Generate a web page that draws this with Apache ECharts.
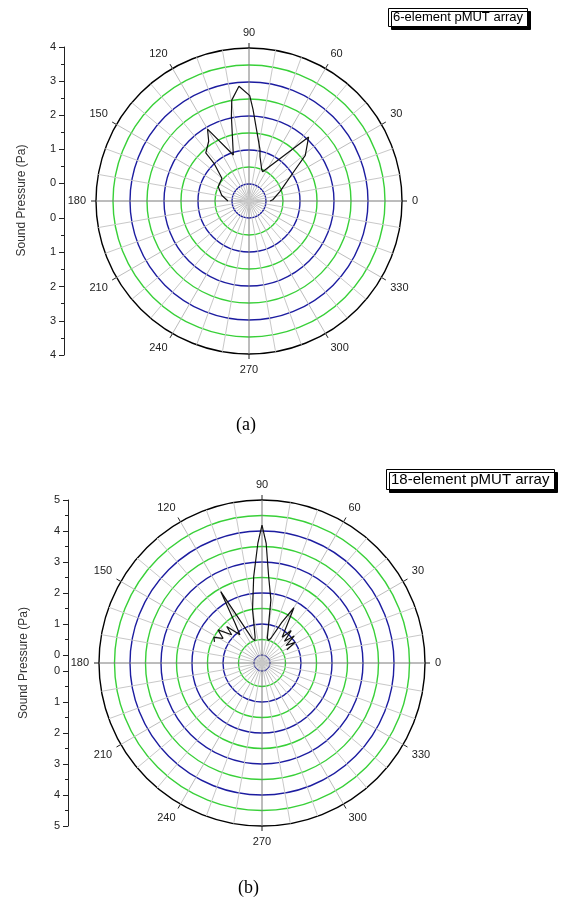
<!DOCTYPE html>
<html>
<head>
  <meta charset="UTF-8">
  <title>pMUT array directivity</title>
  <style>
    html, body { margin: 0; padding: 0; background: #fff; }
    #chart { width: 566px; height: 908px; }
  </style>
  <script src="https://cdn.jsdelivr.net/npm/echarts@6/dist/echarts.min.js"></script>
</head>
<body>
  <div id="chart"></div>
  <script>
    // (a) 6-element array: angle in degrees (0 = right, counter-clockwise), pressure in Pa
    var anglesA   = [0, 3, 17, 27, 34, 39, 47, 65, 68, 76, 78, 87.5, 89.6, 95, 99.7, 101.8, 108.8, 120, 124, 132, 133, 140, 155, 168, 180];
    var pressureA = [0.12, 0.2, 0.45, 0.75, 1.13, 1.63, 2.07, 0.45, 0.5, 0.84, 1.05, 2.2, 2.6, 2.89, 2.51, 2.03, 0.93, 1.94, 1.62, 1.4, 1.0, 0.54, 0.5, 0.32, 0.12];

    // (b) 18-element array
    var anglesB   = [28, 32, 36, 40, 44, 48, 52, 60, 64, 70, 74, 78, 82, 85.6, 88, 90, 92, 95.5, 100, 105, 108, 112, 120, 124, 128, 134, 137, 143, 147.6, 152, 156];
    var pressureB = [0.65, 1.0, 0.7, 1.1, 0.75, 1.15, 0.8, 1.8, 1.2, 0.6, 0.5, 0.57, 1.8, 2.54, 3.6, 4.19, 3.6, 2.54, 1.5, 0.6, 0.5, 0.6, 2.4, 1.3, 0.9, 1.38, 1.08, 1.52, 1.23, 1.5, 1.42];

    var maxA = 4, maxB = 5;
    var titleA = '6-element pMUT array';
    var titleB = '18-element pMUT array';
    var yName = 'Sound Pressure (Pa)';

    var FONT = 'Liberation Sans';
    var BLUE = '#1c1ca0', GREEN = '#38d038';

    // rings every 0.5 Pa: blue on whole numbers, green on halves, black outer edge
    function ringColors(max) {
      var c = [];
      for (var i = 0; i < max * 2; i++) c.push(i % 2 ? GREEN : BLUE);
      c.push('#000');
      return c;
    }

    function angleAxis(polarIndex, main) {
      return {
        polarIndex: polarIndex, type: 'value', min: 0, max: 360, interval: 30,
        startAngle: 0, clockwise: false,
        axisLine: { show: false },
        axisTick: { show: main, length: 5, lineStyle: { color: '#222' } },
        minorTick: { show: false, splitNumber: 3 },
        axisLabel: {
          show: main, margin: 10, color: '#222', fontSize: 11, fontFamily: FONT,
          formatter: function (v) { return v >= 360 ? '' : String(v); }
        },
        splitLine: { show: true, lineStyle: { color: ['#7a7a7a', '#bcbcbc', '#bcbcbc'], width: 1 } },
        minorSplitLine: { show: true, lineStyle: { color: '#c8c8c8', width: 1 } }
      };
    }

    function radiusAxis(polarIndex, max, main) {
      return {
        polarIndex: polarIndex, type: 'value', min: 0, max: max, interval: 0.5,
        show: main,
        axisLine: { show: false }, axisTick: { show: false }, axisLabel: { show: false },
        splitLine: { show: main, lineStyle: { color: ringColors(max), width: 1.4 } }
      };
    }

    function yAxis(gridIndex, max, inverse) {
      return {
        gridIndex: gridIndex, type: 'value', min: 0, max: max, interval: 1, inverse: inverse,
        axisLine: { show: true, lineStyle: { color: '#222', width: 1 } },
        axisTick: { show: true, length: 5, lineStyle: { color: '#222' } },
        minorTick: { show: true, splitNumber: 2, length: 3, lineStyle: { color: '#222' } },
        axisLabel: { fontSize: 11, color: '#222', margin: 8, fontFamily: FONT },
        splitLine: { show: false }
      };
    }

    function gapAxis(gridIndex, nameGap) {
      return {
        gridIndex: gridIndex, type: 'value', min: 0, max: 1,
        axisLine: { show: true, lineStyle: { color: '#222' } },
        axisTick: { show: false }, axisLabel: { show: false }, splitLine: { show: false },
        name: yName, nameLocation: 'middle', nameRotate: 90, nameGap: nameGap,
        nameTextStyle: { fontSize: 12, color: '#333', fontFamily: FONT }
      };
    }

    function boxTitle(text, left, top, size) {
      return {
        text: text, left: left, top: top, padding: [3, 5, 3, 5],
        backgroundColor: '#fff', borderColor: '#000', borderWidth: 1,
        shadowColor: '#000', shadowOffsetX: 3, shadowOffsetY: 3, shadowBlur: 0,
        textStyle: { fontSize: size, fontWeight: 'normal', color: '#000', fontFamily: FONT }
      };
    }

    function caption(text, left, top) {
      return {
        text: text, left: left, top: top, padding: 0,
        textStyle: { fontSize: 18, fontWeight: 'normal', color: '#000', fontFamily: 'Liberation Serif' }
      };
    }

    function pairs(r, a) {
      return r.map(function (v, i) { return [v, a[i]]; });
    }

    var chart = echarts.init(document.getElementById('chart'));
    chart.setOption({
      animation: false,
      backgroundColor: '#fff',
      title: [
        boxTitle(titleA, 388, 8, 13),
        boxTitle(titleB, 386, 469, 15),
        caption('(a)', 236, 416),
        caption('(b)', 238, 879)
      ],
      polar: [
        { center: [249, 201], radius: [17, 153] },
        { center: [249, 201], radius: 17 },
        { center: [262, 663], radius: [8, 163] },
        { center: [262, 663], radius: 8 }
      ],
      angleAxis: [angleAxis(0, true), angleAxis(1, false), angleAxis(2, true), angleAxis(3, false)],
      radiusAxis: [radiusAxis(0, maxA, true), radiusAxis(1, maxA, false), radiusAxis(2, maxB, true), radiusAxis(3, maxB, false)],
      grid: [
        { left: 64, width: 10, top: 47, height: 136 },
        { left: 64, width: 10, top: 183, height: 35 },
        { left: 64, width: 10, top: 218, height: 137 },
        { left: 68, width: 10, top: 500, height: 155 },
        { left: 68, width: 10, top: 655, height: 16 },
        { left: 68, width: 10, top: 671, height: 155 }
      ],
      xAxis: [0, 1, 2, 3, 4, 5].map(function (g) { return { gridIndex: g, type: 'value', show: false }; }),
      yAxis: [
        yAxis(0, maxA, false), gapAxis(1, 36), yAxis(2, maxA, true),
        yAxis(3, maxB, false), gapAxis(4, 38), yAxis(5, maxB, true)
      ],
      series: [
        {
          type: 'line', coordinateSystem: 'polar', polarIndex: 0,
          data: pairs(pressureA, anglesA), showSymbol: false,
          lineStyle: { color: '#111', width: 1.2 }
        },
        {
          type: 'line', coordinateSystem: 'polar', polarIndex: 2,
          data: pairs(pressureB, anglesB), showSymbol: false,
          lineStyle: { color: '#111', width: 1.2 }
        }
      ]
    });
  </script>
</body>
</html>
